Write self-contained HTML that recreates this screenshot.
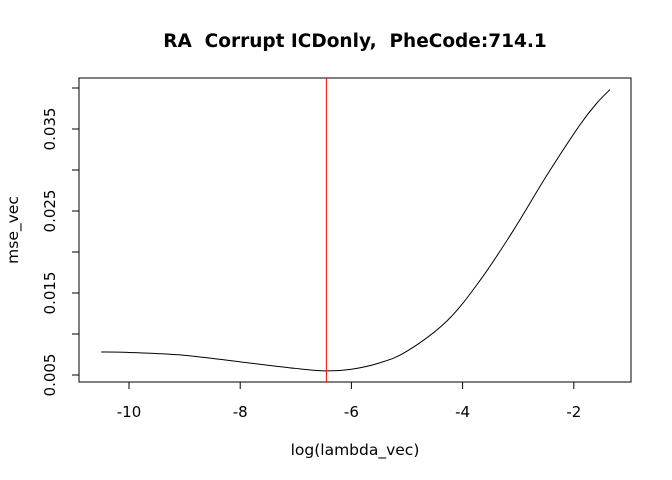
<!DOCTYPE html>
<html><head><meta charset="utf-8"><style>
html,body{margin:0;padding:0;background:#fff;}
svg{display:block;font-family:"DejaVu Sans","Liberation Sans",sans-serif;}
</style></head><body>
<svg id="chart" width="672" height="480" viewBox="0 0 672 480" xmlns="http://www.w3.org/2000/svg">
<rect width="672" height="480" fill="#fff"/>
<text x="355" y="47" text-anchor="middle" font-size="18.5" font-weight="bold" style="white-space:pre">RA  Corrupt ICDonly,  PheCode:714.1</text>
<rect x="79" y="78" width="552" height="304" fill="none" stroke="#000" stroke-width="1"/>
<g id="xaxis"></g>
<g id="yaxis"></g>
<text x="355" y="455" text-anchor="middle" font-size="15.5">log(lambda_vec)</text>
<text transform="translate(18,230) rotate(-90)" text-anchor="middle" font-size="15.5">mse_vec</text>
<g id="series"></g>
</svg>
<script>
const xVals=[-10.5,-10,-9,-8,-7,-6.45,-6,-5.5,-5,-4.28,-3.69,-3.09,-2.48,-1.89,-1.58,-1.35];
const mseVals=[0.0078,0.00775,0.0074,0.0066,0.0058,0.0055,0.0057,0.00646,0.0079,0.0116,0.0165,0.0226,0.0294,0.0355,0.0382,0.0398];
const minLambda=-6.45;
const xTicks=[-10,-8,-6,-4,-2];
const yTicks=[0.005,0.010,0.015,0.020,0.025,0.030,0.035,0.040];
const yLabels=["0.005","0.015","0.025","0.035"];
const NS="http://www.w3.org/2000/svg";
const sx=v=>129+(v+10)*55.6;
const sy=v=>375-(v-0.005)*8200;
function mk(t,a,p){const e=document.createElementNS(NS,t);for(const k in a)e.setAttribute(k,a[k]);p.appendChild(e);return e;}
const xa=document.getElementById('xaxis'),ya=document.getElementById('yaxis'),se=document.getElementById('series');
mk('line',{x1:sx(xTicks[0]),x2:sx(xTicks[xTicks.length-1]),y1:382,y2:382,stroke:'#000'},xa);
xTicks.forEach(t=>{
 const l=mk('line',{x1:sx(t),x2:sx(t),y1:382,y2:389,stroke:'#000'},xa);
 
 
 const tx=mk('text',{x:sx(t),y:417,'text-anchor':'middle','font-size':15},xa);
 
 
 tx.textContent=String(t);
});
const yt=yTicks.filter(t=>sy(t)>=78);
mk('line',{x1:79,x2:79,y1:sy(yt[0]),y2:sy(yt[yt.length-1]),stroke:'#000'},ya);
yt.forEach(t=>{
 const l=mk('line',{x1:72,x2:79,y1:sy(t),y2:sy(t),stroke:'#000'},ya);
 
 
});
yLabels.forEach(s=>{
 const v=parseFloat(s);
 const tx=mk('text',{transform:`translate(55,${sy(v)}) rotate(-90)`,'text-anchor':'middle','font-size':15},ya);
 
 
 tx.textContent=s;
});
const P=xVals.map((x,i)=>[sx(x),sy(mseVals[i])]);
let d=`M${P[0][0]},${P[0][1]}`;
for(let i=0;i<P.length-1;i++){
 const p0=P[Math.max(0,i-1)],p1=P[i],p2=P[i+1],p3=P[Math.min(P.length-1,i+2)];
 const c1=[p1[0]+(p2[0]-p0[0])/6,p1[1]+(p2[1]-p0[1])/6];
 const c2=[p2[0]-(p3[0]-p1[0])/6,p2[1]-(p3[1]-p1[1])/6];
 d+=` C${c1[0]},${c1[1]} ${c2[0]},${c2[1]} ${p2[0]},${p2[1]}`;
}
const path=mk('path',{d:d,fill:'none',stroke:'#000','stroke-width':1},se);


const vl=mk('line',{x1:sx(minLambda),x2:sx(minLambda),y1:78,y2:382,stroke:'#ff0000','stroke-width':1},se);


</script>
</body></html>
